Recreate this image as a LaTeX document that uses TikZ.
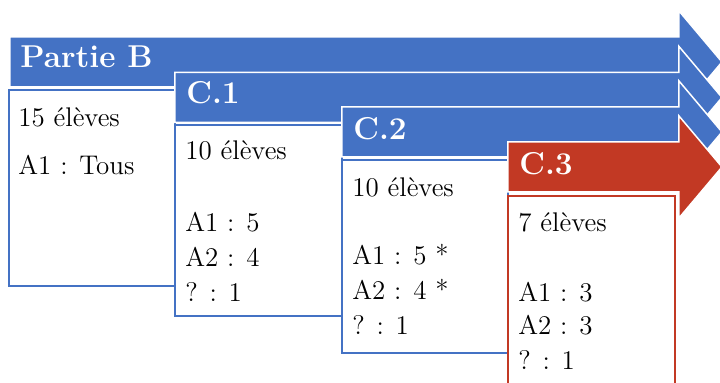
\documentclass[tikz,border=0pt]{standalone}
\usepackage{fontspec}
\definecolor{ablue}{RGB}{68,114,196}
\definecolor{ared}{RGB}{194,57,36}
\tikzset{
  arrowshape/.style={line width=0.75pt, draw=white, line join=miter},
  infobox/.style={fill=white, line width=1.2pt},
  titletext/.style={anchor=base west, inner sep=0pt, text=white, font=\fontsize{15.8}{18}\selectfont\bfseries},
  bodytext/.style={anchor=base west, inner sep=0pt, font=\fontsize{13.5}{16}\selectfont},
}
\newcommand{\bigarrow}[3]{% left x, center y, colour
  \fill[#3, arrowshape] (#1,#2-25) -- (679,#2-25) -- (679,#2-51) -- (722,#2) -- (679,#2+51) -- (679,#2+25) -- (#1,#2+25) -- cycle;
}
\begin{document}
\begin{tikzpicture}[x=0.5pt,y=-0.5pt]
\useasboundingbox (0,0) rectangle (720,383);
% Partie B
\bigarrow{10}{62}{ablue}
\draw[infobox, draw=ablue] (9,90) rectangle (175,286);
\node[titletext] (tB) at (20,68) {Partie B};
\node[bodytext] (b1) at (18,127) {15 élèves};
\node[bodytext] (b2) at (18,175) {A1 : Tous};
% C.1
\bigarrow{175}{97.5}{ablue}
\draw[infobox, draw=ablue] (175,125) rectangle (342,316);
\node[titletext] (t1) at (186,104) {C.1};
\node[bodytext] (c11) at (185,160) {10 élèves};
\node[bodytext] (c12) at (185,232) {A1 : 5};
\node[bodytext] (c13) at (185,267) {A2 : 4};
\node[bodytext] (c14) at (185,302) {? : 1};
% C.2
\bigarrow{342}{132}{ablue}
\draw[infobox, draw=ablue] (342,160) rectangle (508,353);
\node[titletext] (t2) at (353,140) {C.2};
\node[bodytext] (c21) at (352,197) {10 élèves};
\node[bodytext] (c22) at (352,265) {A1 : 5 *};
\node[bodytext] (c23) at (352,300) {A2 : 4 *};
\node[bodytext] (c24) at (352,335) {? : 1};
% C.3
\bigarrow{508}{167}{ared}
\draw[infobox, draw=ared] (508,196) rectangle (675,400);
\node[titletext] (t3) at (519,175) {C.3};
\node[bodytext] (c31) at (518,232) {7 élèves};
\node[bodytext] (c32) at (518,302) {A1 : 3};
\node[bodytext] (c33) at (518,335) {A2 : 3};
\node[bodytext] (c34) at (518,370) {? : 1};
\end{tikzpicture}
\end{document}
